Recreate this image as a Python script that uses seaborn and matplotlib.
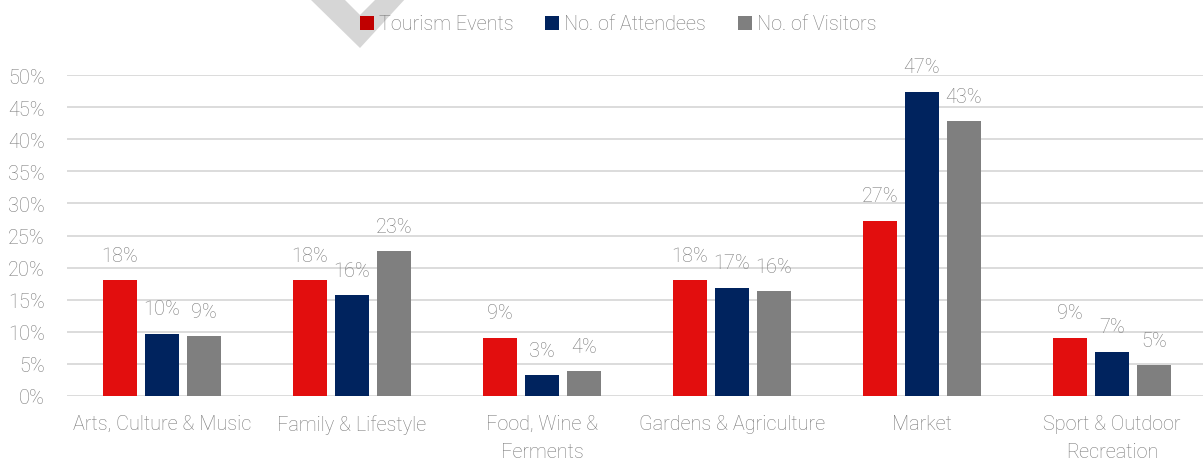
import matplotlib
matplotlib.use("Agg")
import matplotlib.pyplot as plt
from matplotlib.patches import Patch, Polygon
from matplotlib.ticker import PercentFormatter
import pandas as pd
import seaborn as sns

# --- data -------------------------------------------------------------
categories = [
    "Arts, Culture & Music",
    "Family & Lifestyle",
    "Food, Wine &\nFerments",
    "Gardens & Agriculture",
    "Market",
    "Sport & Outdoor\nRecreation",
]
series_names = ["Tourism Events", "No. of Attendees", "No. of Visitors"]
tourism_events = [0.181, 0.181, 0.091, 0.181, 0.273, 0.091]
attendees = [0.097, 0.157, 0.032, 0.169, 0.474, 0.069]
visitors = [0.093, 0.226, 0.039, 0.163, 0.428, 0.048]
y_ticks = [0.0, 0.05, 0.10, 0.15, 0.20, 0.25, 0.30, 0.35, 0.40, 0.45, 0.50]

bar_colors = ["#E20E0E", "#00235E", "#7F7F7F"]
legend_colors = ["#C00000", "#00235E", "#7F7F7F"]
text_color = "#7A7A7A"
grid_color = "#D9D9D9"
font_size = 14.3

df = pd.DataFrame({
    "category": categories * 3,
    "series": [s for s in series_names for _ in categories],
    "share": tourism_events + attendees + visitors,
})

# --- style ------------------------------------------------------------
sns.set_style("white")
plt.rcParams["font.family"] = ["Roboto", "DejaVu Sans"]
plt.rcParams["font.weight"] = "light"

W, H = 1203, 460
fig = plt.figure(figsize=(W / 100, H / 100), dpi=100)
ax = fig.add_axes([67 / W, 63 / H, 1140 / W, 321 / H])

sns.barplot(
    data=df, x="category", y="share", hue="series", order=categories,
    hue_order=series_names, palette=bar_colors, saturation=1,
    width=0.663, gap=0.21, errorbar=None, legend=False, ax=ax,
    edgecolor="none",
)

for cont in ax.containers:
    ax.bar_label(cont, fmt=lambda v: f"{v:.0%}", padding=11,
                 fontsize=font_size, color=text_color, fontweight="light")

ax.set_ylim(0, 0.5)
ax.set_xlim(-0.5, len(categories) - 0.5)
ax.set_yticks(y_ticks)
ax.yaxis.set_major_formatter(PercentFormatter(1.0, decimals=0))
ax.set_xlabel("")
ax.set_ylabel("")
ax.grid(axis="y", color=grid_color, linewidth=1.3)
ax.set_axisbelow(True)
for sp in ax.spines.values():
    sp.set_visible(False)
ax.tick_params(axis="both", length=0, labelsize=font_size, labelcolor=text_color)
ax.tick_params(axis="y", pad=16)
ax.tick_params(axis="x", pad=13)
for lbl in ax.get_xticklabels():
    lbl.set_linespacing(1.6)
    lbl.set_fontweight("light")
for lbl in ax.get_yticklabels():
    lbl.set_fontweight("light")

# decorative chevron at the top
def px(x, y):
    return (x / W, 1 - y / H)

chevron = Polygon(
    [px(309, -1), px(360, 49), px(406, -1), px(377, -1), px(360, 16), px(343, -1)],
    closed=True, transform=fig.transFigure, facecolor="#D6D6D6",
    edgecolor="none", zorder=0,
)
fig.add_artist(chevron)

handles = [Patch(facecolor=c, edgecolor="none") for c in legend_colors]
leg = fig.legend(
    handles, series_names, loc="center", bbox_to_anchor=(618 / W, 1 - 25 / H),
    ncol=3, frameon=False, fontsize=font_size, handlelength=0.7, handleheight=0.7,
    handletextpad=0.25, columnspacing=1.6, labelcolor=text_color,
)
leg.set_zorder(5)

fig.savefig("out.png", dpi=100)
